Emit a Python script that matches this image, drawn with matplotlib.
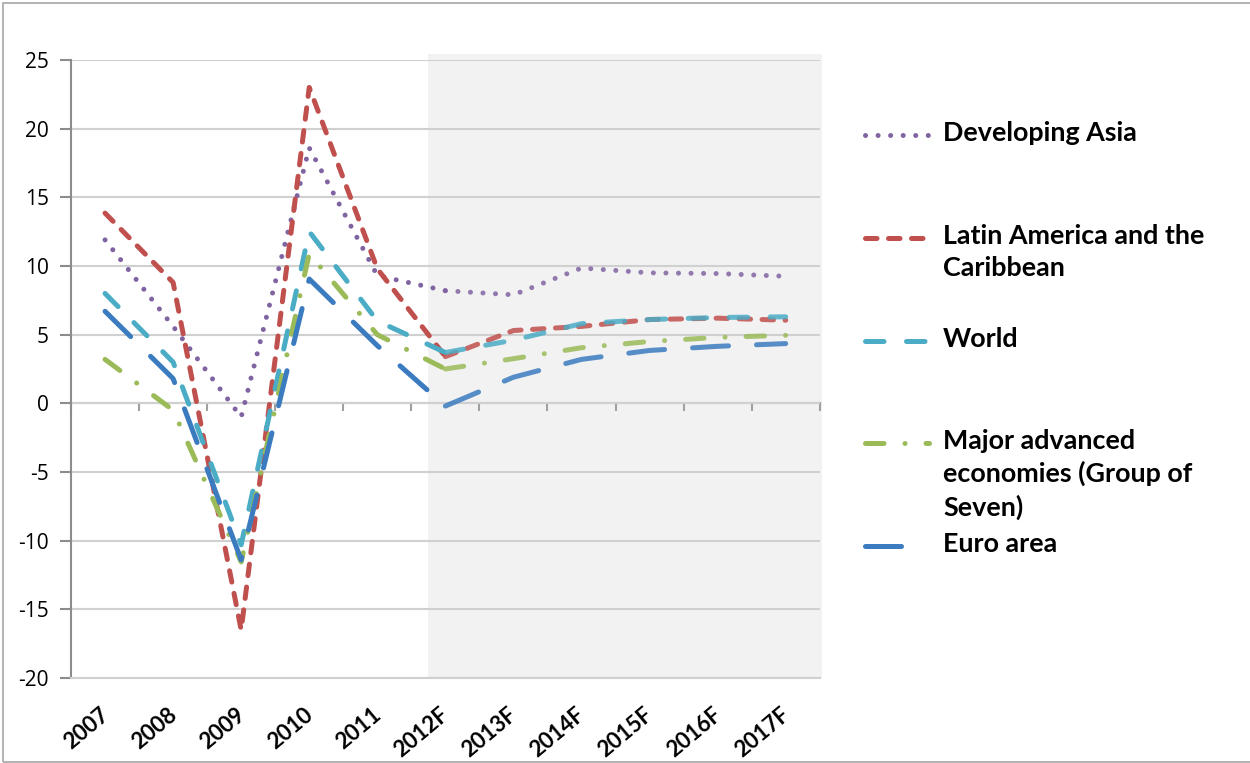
import matplotlib
matplotlib.use("Agg")
import matplotlib.pyplot as plt
from matplotlib.lines import Line2D
from matplotlib.patches import Rectangle
from matplotlib.transforms import ScaledTranslation

plt.rcParams['font.family'] = ['Lato', 'DejaVu Sans']
plt.rcParams['axes.unicode_minus'] = False

# data
years = ['2007', '2008', '2009', '2010', '2011', '2012F', '2013F', '2014F',
         '2015F', '2016F', '2017F']
dev_asia = [11.9, 5.6, -1.0, 18.6, 9.3, 8.2, 7.9, 9.85, 9.5, 9.45, 9.25]
latam = [13.85, 8.8, -16.5, 23.0, 9.8, 3.4, 5.3, 5.6, 6.1, 6.2, 6.05]
world = [8.0, 3.0, -10.3, 12.5, 6.0, 3.7, 4.6, 5.8, 6.1, 6.25, 6.3]
g7 = [3.2, -0.5, -11.55, 10.9, 5.0, 2.5, 3.25, 4.05, 4.5, 4.8, 4.95]
euro = [6.7, 1.8, -11.4, 9.05, 4.2, -0.2, 1.9, 3.2, 3.85, 4.15, 4.35]

labels = ['Developing Asia', 'Latin America and the\nCaribbean', 'World',
          'Major advanced\neconomies (Group of\nSeven)', 'Euro area']
series = [dev_asia, latam, world, g7, euro]
colors = ['#8064A2', '#C0504D', '#4BACC6', '#9BBB59', '#3B7BC0']
dashes = [(0.01, 2.5), (2.3, 2.3), (3.7, 4.5), (3.7, 4.2, 0.01, 4.2), (7.2, 5.6)]

fig = plt.figure(figsize=(12.5, 7.63), dpi=100)
ax = fig.add_axes([0.0568, 0.1114, 0.599, 0.81])

x = list(range(len(years)))
ax.set_xlim(-0.5, 10.5)
ax.set_ylim(-20, 25)

# forecast shading
ax.axvspan(4.74, 10.54, ymin=0, ymax=1.009, color='#F2F2F2', zorder=0,
           clip_on=False, lw=0)

lw = 3.6
for s, c, d in zip(series, colors, dashes):
    ax.plot(x[:6], s[:6], color=c, lw=lw, dashes=d, dash_capstyle='round',
            solid_capstyle='round', zorder=3)
    ax.plot(x[5:], s[5:], color=c, lw=lw, dashes=d, dash_capstyle='round',
            alpha=0.85, zorder=3)

ax.set_yticks(range(-20, 26, 5))
ax.yaxis.grid(True, color='#D0D0D0', lw=1.5, zorder=1)
ax.set_axisbelow(True)
ax.tick_params(axis='y', length=8, width=1.5, color='#8C8C8C', labelsize=15,
               pad=8)
for t in ax.get_yticklabels():
    t.set_fontfamily(['Open Sans', 'DejaVu Sans'])

ax.set_xticks(x)
ax.set_xticklabels(years, rotation=40, ha='right', rotation_mode='anchor',
                   fontsize=16, fontweight='bold')
ax.tick_params(axis='x', length=0, pad=19)
shift = ScaledTranslation(-0.06, 0, fig.dpi_scale_trans)
for t in ax.get_xticklabels():
    t.set_transform(t.get_transform() + shift)

for side in ['top', 'right']:
    ax.spines[side].set_visible(False)
ax.spines['left'].set_color('#8C8C8C')
ax.spines['left'].set_linewidth(1.5)
ax.spines['bottom'].set_color('#D0D0D0')
ax.spines['bottom'].set_linewidth(1.5)

# category axis crossing at zero
sec = ax.secondary_xaxis(20 / 45)
sec.set_xticks([i - 0.5 for i in range(len(years) + 1)])
sec.set_xticklabels([])
sec.tick_params(length=6, width=1.5, color='#A0A0A0')
sec.spines['bottom'].set_color('#A0A0A0')
sec.spines['bottom'].set_linewidth(1.5)

# legend drawn by hand, Excel style
W, H = 1250, 763
first_rows = [135, 238, 341, 443, 546]
for lab, c, d, yp in zip(labels, colors, dashes, first_rows):
    yf = 1 - yp / H
    fig.add_artist(Line2D([865 / W, 929 / W], [yf, yf], color=c, lw=lw,
                          dashes=d, dash_capstyle='round',
                          transform=fig.transFigure))
    fig.text(943 / W, 1 - (yp - 14) / H, lab, fontsize=19.4,
             fontweight='bold', va='top', ha='left', linespacing=1.38,
             transform=fig.transFigure)

fig.add_artist(Rectangle((3 / W, 1 / H), 1.0, 1 - 4 / H, fill=False,
                         ec='#A6A6A6', lw=1.2, transform=fig.transFigure))

fig.savefig('out.png', dpi=100)
